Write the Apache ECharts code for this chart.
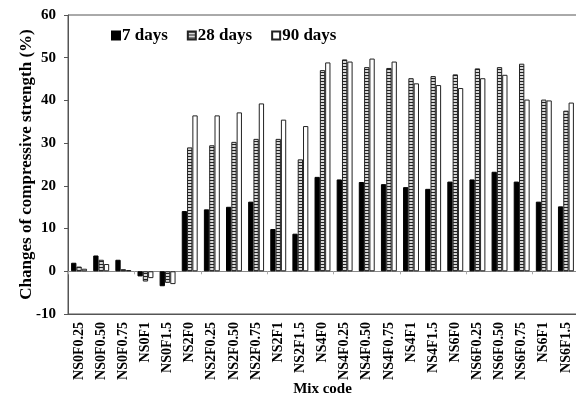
<!DOCTYPE html>
<html><head><meta charset="utf-8">
<script src="https://cdn.jsdelivr.net/npm/echarts@6/dist/echarts.min.js"></script>
<style>html,body{margin:0;padding:0;background:#fff}#c{width:576px;height:400px}</style>
</head><body><div id="c"></div>
<script>
const categories = ['NS0F0.25','NS0F0.50','NS0F0.75','NS0F1','NS0F1.5','NS2F0','NS2F0.25','NS2F0.50','NS2F0.75','NS2F1','NS2F1.5','NS4F0','NS4F0.25','NS4F0.50','NS4F0.75','NS4F1','NS4F1.5','NS6F0','NS6F0.25','NS6F0.50','NS6F0.75','NS6F1','NS6F1.5'];
const days7  = [2.0, 3.7, 2.7, -1.2, -3.5, 14.1, 14.5, 15.1, 16.3, 9.9, 8.8, 22.1, 21.5, 20.9, 20.4, 19.7, 19.3, 21.0, 21.5, 23.3, 21.0, 16.3, 15.2];
const days28 = [1.1, 2.7, 0.5, -2.4, -2.7, 29.0, 29.5, 30.3, 31.0, 31.0, 26.2, 47.1, 49.6, 47.8, 47.6, 45.2, 45.7, 46.1, 47.5, 47.8, 48.6, 40.2, 37.6];
const days90 = [0.6, 1.7, 0.3, -1.6, -3.0, 36.5, 36.5, 37.2, 39.3, 35.5, 34.0, 48.9, 49.1, 49.8, 49.1, 44.0, 43.6, 42.9, 45.2, 46.0, 40.2, 40.0, 39.5];
const yTicks = [-10, 0, 10, 20, 30, 40, 50, 60];

const cv = document.createElement('canvas');
cv.width = 2; cv.height = 3;
const cx = cv.getContext('2d');
cx.fillStyle = '#d8d8d8'; cx.fillRect(0,0,2,3);
cx.fillStyle = '#222'; cx.fillRect(0,0,2,1);
const hatch = {image: cv, repeat: 'repeat'};

const font = '"Liberation Serif","Times New Roman",serif';
const chart = echarts.init(document.getElementById('c'));
const barBase = {type:'bar', barGap:'0%', barCategoryGap:'28%', xAxisIndex:0};
chart.setOption({
  animation:false,
  textStyle:{fontFamily:font},
  legend:{top:22,left:106,itemWidth:8,itemHeight:8,itemGap:19,icon:'rect',
    textStyle:{fontFamily:font,fontWeight:'bold',fontSize:17,color:'#000',padding:[0,0,0,-3]},
    data:['7 days','28 days','90 days']},
  grid:{left:68,right:-1,top:15,bottom:86,show:true,borderColor:'#555',borderWidth:1,backgroundColor:'transparent',
    containLabel:false,outerBoundsMode:'none'},
  xAxis:[{type:'category',data:categories,position:'bottom',
    axisLine:{onZero:false,lineStyle:{color:'#555'}},axisTick:{show:false},
    axisLabel:{interval:0,rotate:90,fontFamily:font,fontWeight:'bold',fontSize:14,color:'#000',margin:8},
    name:'Mix code',nameLocation:'middle',nameGap:68,nameMoveOverlap:false,
    nameTextStyle:{fontFamily:font,fontWeight:'bold',fontSize:15,color:'#000'}},
   {type:'category',data:categories,position:'bottom',
    axisLine:{onZero:true,lineStyle:{color:'#888'}},axisTick:{show:true,length:3,lineStyle:{color:'#aaa'}},
    axisLabel:{show:false}}],
  yAxis:{type:'value',min:-10,max:60,interval:10,
    axisLine:{show:true,lineStyle:{color:'#555'}},axisTick:{show:true,length:4,lineStyle:{color:'#555'}},
    splitLine:{show:false},
    axisLabel:{fontFamily:font,fontWeight:'bold',fontSize:15,color:'#000',margin:12,
      formatter:v=>yTicks.includes(v)?String(v):''},
    name:'Changes of compressive strength (%)',nameLocation:'middle',nameGap:33,nameMoveOverlap:false,
    nameTextStyle:{fontFamily:font,fontWeight:'bold',fontSize:17,color:'#000'}},
  series:[
    Object.assign({name:'7 days',data:days7,itemStyle:{color:'#000',borderColor:'#000',borderWidth:1}},barBase),
    Object.assign({name:'28 days',data:days28,itemStyle:{color:hatch,borderColor:'#222',borderWidth:1}},barBase),
    Object.assign({name:'90 days',data:days90,itemStyle:{color:'#fff',borderColor:'#222',borderWidth:1}},barBase)
  ]
});
</script></body></html>
